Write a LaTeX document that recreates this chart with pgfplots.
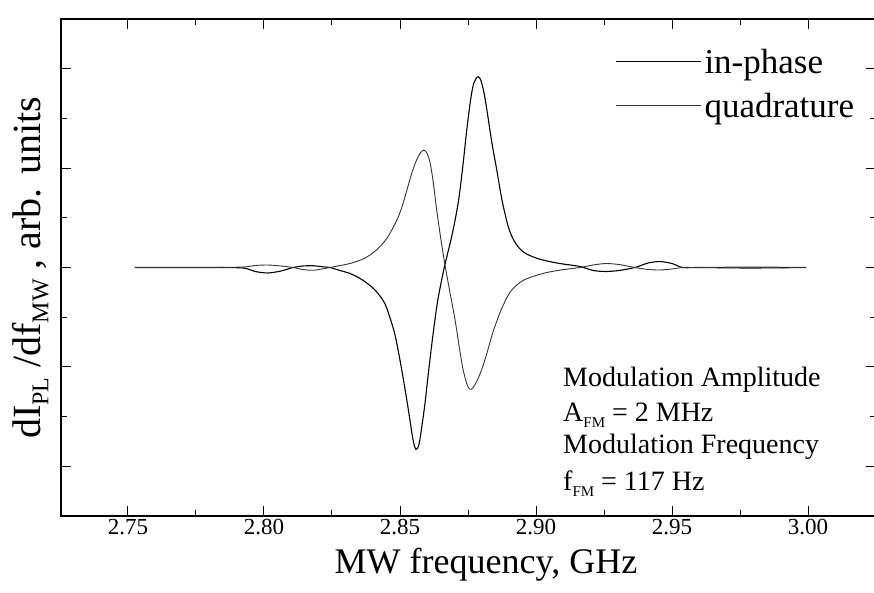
\documentclass[border=0pt]{standalone}
\usepackage{fontspec}
\setmainfont{Liberation Serif}
\usepackage{pgfplots}
\pgfplotsset{compat=1.18}
\pgfplotstableread{
x y
2.7526 0
2.7654 0
2.7801 0
2.7923 -0.005
2.7967 -0.04
2.8015 -0.055
2.8063 -0.035
2.8107 0
2.8143 0.015
2.8180 0.018
2.8213 0.008
2.82426 0
2.82794 -0.03
2.83162 -0.06
2.83529 -0.11
2.83897 -0.18
2.84191 -0.26
2.84449 -0.365
2.84632 -0.505
2.84816 -0.675
2.85000 -0.93
2.85184 -1.22
2.85331 -1.47
2.85478 -1.73
2.85588 -1.83
2.85699 -1.78
2.85809 -1.59
2.85919 -1.37
2.86029 -1.10
2.86176 -0.76
2.86360 -0.38
2.86507 -0.16
2.86654 0.03
2.86875 0.28
2.87022 0.47
2.87169 0.70
2.87316 1.03
2.87463 1.40
2.87610 1.71
2.87721 1.86
2.87868 1.92
2.87978 1.88
2.88088 1.76
2.88199 1.58
2.88382 1.25
2.88566 0.97
2.88750 0.68
2.88971 0.42
2.89154 0.29
2.89338 0.21
2.89596 0.145
2.89963 0.10
2.90331 0.07
2.90882 0.04
2.91618 0.01
2.9210 -0.03
2.9257 -0.04
2.9305 -0.03
2.9364 0.0
2.9412 0.045
2.9456 0.06
2.9500 0.04
2.9540 0.0
2.9603 0.0
2.9787 -0.005
2.9993 0.0
}\inphase
\pgfplotstableread{
x y
2.7526 0
2.7801 0
2.7923 0.005
2.7967 0.02
2.8015 0.025
2.8063 0.015
2.8107 0
2.8143 -0.02
2.8180 -0.028
2.8213 -0.015
2.82426 0
2.82794 0.02
2.83162 0.04
2.83640 0.085
2.83971 0.14
2.84265 0.21
2.84559 0.31
2.84890 0.48
2.85074 0.61
2.85257 0.78
2.85441 0.955
2.85625 1.09
2.85772 1.16
2.85882 1.18
2.85993 1.15
2.86103 1.06
2.86213 0.88
2.86360 0.56
2.86507 0.28
2.86654 0.03
2.86838 -0.25
2.87022 -0.52
2.87169 -0.78
2.87316 -1.02
2.87463 -1.175
2.87574 -1.225
2.87684 -1.21
2.87831 -1.14
2.88015 -1.02
2.88199 -0.86
2.88419 -0.65
2.88713 -0.43
2.89044 -0.25
2.89412 -0.15
2.89779 -0.10
2.90331 -0.055
2.90882 -0.026
2.91618 0.0
2.9210 0.025
2.9257 0.04
2.9305 0.03
2.9364 0.0
2.9412 -0.02
2.9456 -0.025
2.9500 -0.015
2.9540 0.0
2.9603 0.0
2.9787 0.005
2.9993 0.0
}\quadrature
\begin{document}
\begin{tikzpicture}[x=1pt,y=1pt]
\useasboundingbox (0,0) rectangle (874,592);
\begin{axis}[
  at={(61pt,76pt)}, anchor=south west,
  width=815pt, height=497pt, scale only axis,
  xmin=2.7254, xmax=3.0250, ymin=-2.5, ymax=2.5,
  axis line style={line width=1.2pt},
  tick align=inside,
  xtick={2.75,2.80,2.85,2.90,2.95,3.00},
  minor x tick num=1,
  ytick={-2,-1,0,1,2}, minor y tick num=1,
  yticklabels={},
  major tick length=10pt, minor tick length=6pt,
  every tick/.style={black, line width=0.9pt},
  xticklabel style={/pgf/number format/.cd, fixed, fixed zerofill, precision=2, assume math mode=true},
  ticklabel style={font=\fontsize{23}{23}\selectfont},
  legend style={at={(0.680,0.946)}, anchor=north west, draw=none, fill=none,
    font=\fontsize{35}{35}\selectfont, row sep=12pt, inner sep=0pt,
    nodes={inner sep=3pt}},
  legend image code/.code={\draw[#1] (0pt,0pt) -- (85pt,0pt);},
  legend cell align=left,
]
\addplot[black, line width=1.1pt, smooth, tension=0.5] table {\inphase};
\addlegendentry{in-phase}
\addplot[black!80, line width=0.9pt, smooth, tension=0.5] table {\quadrature};
\addlegendentry{quadrature}
\end{axis}
\node[anchor=center, font=\fontsize{36}{36}\selectfont] at (486,27) {MW frequency, GHz};
\node[rotate=90, anchor=base, font=\fontsize{40}{40}\selectfont] at (40,324)
  {dI\raisebox{-0.45ex}{\fontsize{24}{24}\selectfont PL} /df\raisebox{-0.45ex}{\fontsize{24}{24}\selectfont MW} , arb. units};
\begin{scope}[every node/.style={anchor=base west, inner sep=0pt, font=\fontsize{28}{28}\selectfont}]
\node at (563,206) {Modulation Amplitude};
\node at (563,171) {A\raisebox{-0.5ex}{\fontsize{15}{15}\selectfont FM} = 2 MHz};
\node at (563,139) {Modulation Frequency};
\node at (563,102) {f\raisebox{-0.5ex}{\fontsize{15}{15}\selectfont FM} = 117 Hz};
\end{scope}
\end{tikzpicture}
\end{document}
